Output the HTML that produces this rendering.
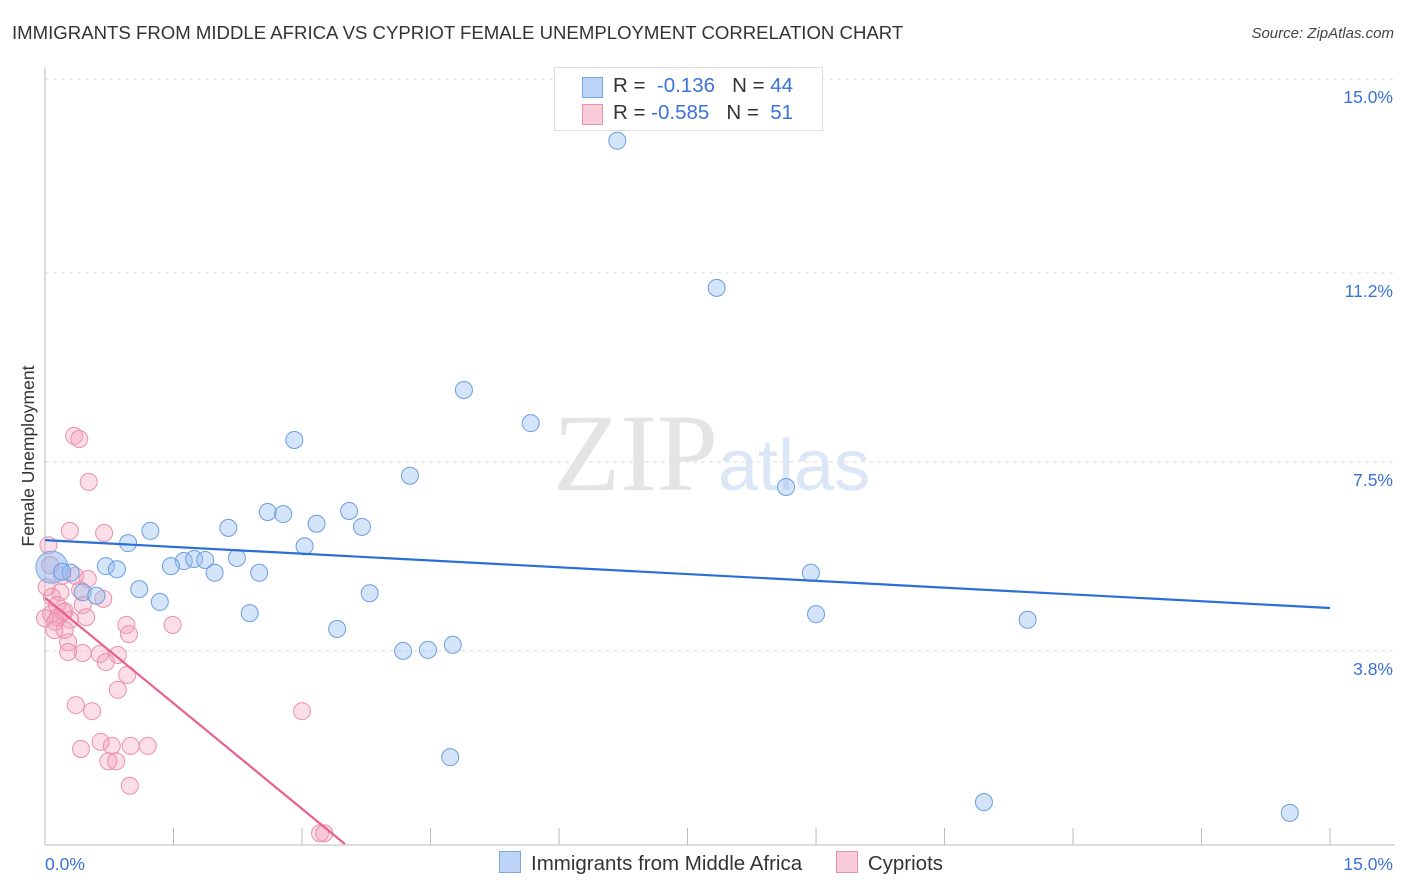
<!DOCTYPE html>
<html><head><meta charset="utf-8"><style>
body{margin:0;background:#fff;font-family:"Liberation Sans",sans-serif}
#wrap{position:relative;width:1406px;height:892px;overflow:hidden}
</style></head><body><div id="wrap">
<div style="position:absolute;left:12px;top:22px;font-size:18.6px;color:#333">IMMIGRANTS FROM MIDDLE AFRICA VS CYPRIOT FEMALE UNEMPLOYMENT CORRELATION CHART</div>
<div style="position:absolute;right:12px;top:25px;font-size:15px;color:#444;font-style:italic">Source: ZipAtlas.com</div>
<svg id="svg" width="1406" height="892" style="position:absolute;left:0;top:0"></svg>
</div>
<script>
const yTicks=[15.0,11.2,7.5,3.8];
const yTickLabels=["15.0%","11.2%","7.5%","3.8%"];
const blueX=[6.68,7.84,4.89,5.67,2.91,4.26,8.65,1.23,2.14,2.60,2.78,3.17,3.55,3.70,0.97,3.03,2.24,1.62,1.74,1.87,1.47,0.71,0.84,0.30,0.20,1.98,2.50,8.94,1.10,0.44,0.60,3.79,1.34,2.39,9.00,11.47,3.41,4.18,4.47,4.76,4.73,10.96,14.53];
const blueY=[13.79,10.91,8.91,8.26,7.93,7.23,7.01,6.15,6.21,6.52,6.48,6.29,6.54,6.23,5.91,5.85,5.62,5.56,5.60,5.58,5.46,5.46,5.40,5.33,5.35,5.33,5.33,5.33,5.01,4.95,4.88,4.93,4.76,4.54,4.52,4.41,4.23,3.80,3.82,3.92,1.72,0.84,0.63];
const bigBlue=[0.08,5.44];
const pinkX=[0.34,0.40,0.51,0.29,0.69,0.04,0.20,0.50,0.35,0.18,0.08,0.14,0.44,0.07,0.15,0.23,0.29,0.00,0.12,0.23,0.11,0.48,0.95,0.98,1.49,0.27,0.27,0.44,0.64,0.85,0.71,0.96,0.85,0.36,0.55,3.00,0.42,0.65,0.78,1.00,1.20,0.74,0.83,0.99,3.21,3.26,0.68,0.02,0.21,0.06,0.41];
const pinkY=[8.01,7.95,7.11,6.15,6.11,5.87,5.27,5.21,5.27,4.95,4.86,4.70,4.70,4.52,4.46,4.58,4.41,4.44,4.37,4.21,4.21,4.46,4.31,4.13,4.31,3.97,3.78,3.76,3.74,3.72,3.58,3.33,3.04,2.74,2.62,2.62,1.88,2.02,1.94,1.94,1.94,1.64,1.64,1.16,0.23,0.23,4.82,5.05,4.56,5.48,4.99];
const blueLine=[[0,5.97],[15,4.64]];
const pinkLine=[[0,4.84],[3.5,0.02]];
const NS="http://www.w3.org/2000/svg";
const svg=document.getElementById('svg');
const X=v=>45+v*85.67, Y=v=>845-v*51.07;
function mk(t,a){const e=document.createElementNS(NS,t);for(const k in a)e.setAttribute(k,a[k]);svg.appendChild(e);return e;}
yTicks.forEach((t,i)=>{
 const g=mk('line',{x1:45,x2:1395,y1:Y(t),y2:Y(t),stroke:'#ddd','stroke-dasharray':'4,4'});
 
 
 const l=mk('text',{x:1393,y:Y(t)+24,'text-anchor':'end','font-size':17.5,fill:'#3a72d8'});
 l.textContent=yTickLabels[i];
 
 
});
const wm=mk('text',{x:553,y:490,'font-size':110,fill:'#e4e4e4','font-family':'Liberation Serif'});wm.textContent='ZIP';


const wm2=mk('text',{x:718,y:490,'font-size':72,fill:'#dbe6f7'});wm2.textContent='atlas';


let ax=mk('line',{x1:45,x2:45,y1:68,y2:845,stroke:'#bbb'});


ax=mk('line',{x1:45,x2:1395,y1:845,y2:845,stroke:'#bbb'});


for(let i=1;i<=10;i++){const t=mk('line',{x1:X(i*1.5),x2:X(i*1.5),y1:828,y2:845,stroke:'#bbb'});
 
 }
pinkX.forEach((x,i)=>{const c=mk('circle',{cx:X(x),cy:Y(pinkY[i]),r:8.5,fill:'rgba(244,160,186,0.35)',stroke:'#ec8fab','stroke-width':1});
 
 });
const bb=mk('circle',{cx:X(bigBlue[0]),cy:Y(bigBlue[1]),r:16,fill:'rgba(140,180,235,0.5)',stroke:'#7aa6e6'});


blueX.forEach((x,i)=>{const c=mk('circle',{cx:X(x),cy:Y(blueY[i]),r:8.5,fill:'rgba(150,190,240,0.4)',stroke:'#6a9de3','stroke-width':1});
 
 });
let ln=mk('line',{x1:X(blueLine[0][0]),y1:Y(blueLine[0][1]),x2:X(blueLine[1][0]),y2:Y(blueLine[1][1]),stroke:'#2a6fd6','stroke-width':2.2});


ln=mk('line',{x1:X(pinkLine[0][0]),y1:Y(pinkLine[0][1]),x2:X(pinkLine[1][0]),y2:Y(pinkLine[1][1]),stroke:'#e8608b','stroke-width':2.2});


let t=mk('text',{x:45,y:870,'font-size':17.5,fill:'#3a72d8'});t.textContent='0.0%';


t=mk('text',{x:1393,y:870,'text-anchor':'end','font-size':17.5,fill:'#3a72d8'});t.textContent='15.0%';


t=mk('text',{x:34,y:456,'text-anchor':'middle','font-size':17.5,fill:'#333',transform:'rotate(-90 34 456)'});t.textContent='Female Unemployment';


</script>
<div style="position:absolute;left:554px;top:67px;width:267px;height:62px;border:1px solid #ddd;background:#fff;font-size:20.5px;color:#333">
 <div style="position:absolute;left:27px;top:9px;width:19px;height:19px;background:#bcd4f5;border:1px solid #7aa6e6"></div>
 <div style="position:absolute;left:58px;top:6px;white-space:pre">R =  <span style="color:#3a72d8">-0.136</span>   N = <span style="color:#3a72d8">44</span></div>
 <div style="position:absolute;left:27px;top:36px;width:19px;height:19px;background:#f9ccd9;border:1px solid #ec8fab"></div>
 <div style="position:absolute;left:58px;top:33px;white-space:pre">R = <span style="color:#3a72d8">-0.585</span>   N =  <span style="color:#3a72d8">51</span></div>
</div>
<div style="position:absolute;left:499px;top:851px;font-size:20.5px;color:#333;white-space:nowrap">
 <span><span style="display:inline-block;width:20px;height:20px;background:#bcd4f5;border:1px solid #7aa6e6;vertical-align:-3px;margin-right:10px"></span>Immigrants from Middle Africa</span>
 <span style="margin-left:28px"><span style="display:inline-block;width:20px;height:20px;background:#f9ccd9;border:1px solid #ec8fab;vertical-align:-3px;margin-right:10px"></span>Cypriots</span>
</div>
</body></html>
